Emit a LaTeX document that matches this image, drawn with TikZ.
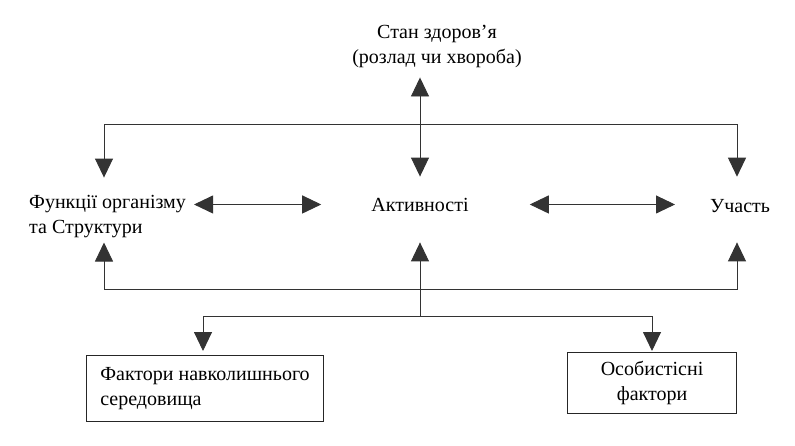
\documentclass[tikz,border=0pt]{standalone}
\usepackage{fontspec}
\setmainfont{Liberation Serif}
\usetikzlibrary{arrows.meta}
\begin{document}
\begin{tikzpicture}[x=1pt, y=-1pt,
        >={Triangle[length=19pt,width=18pt]},
        every node/.style={inner sep=0pt, font=\fontsize{20}{25}\selectfont},
        link/.style={draw=black!80, line width=0.9pt},
        factorbox/.style={draw=black!85, line width=1.1pt, anchor=north west}]
        \useasboundingbox (0,0) rectangle (795,445);

        \node[anchor=base, align=center] (health) at (437,63) {Стан здоров’я\\(розлад чи хвороба)};
        \node[anchor=base west, align=left] (func) at (29,233) {Функції організму\\та Структури};
        \node[anchor=base] (act) at (420,211) {Активності};
        \node[anchor=base west] (part) at (710,212) {Участь};
        \node[factorbox, minimum width=237pt, minimum height=66pt, align=left] (env) at (86,355) {Фактори навколишнього\\середовища};
        \node[factorbox, minimum width=169pt, minimum height=61pt, align=center] (pers) at (567,352) {Особистісні\\фактори};

        \coordinate (tl) at (104,124);
        \coordinate (tr) at (737,124);
        \coordinate (bl) at (104,289);
        \coordinate (br) at (737,289);
        \coordinate (bm) at (420,316);
        \coordinate (fl) at (203,316);
        \coordinate (fr) at (652,316);

        \draw[link, <->, shorten <=10pt, shorten >=21pt] (act |- health.south) -- (act.north);
        \draw[link, <->, shorten <=17pt, shorten >=22pt] (tl |- func.north) -- (tl) -- (tr) -- (tr |- part.north);
        \draw[link, <->, shorten <=5pt, shorten >=30pt] (bl |- func.south) -- (bl) -- (br) -- (br |- part.south);
        \draw[link, ->, shorten >=31pt] (bm) -- (bm |- act.south);
        \draw[link, <->, shorten <=4pt, shorten >=1pt] (fl |- env.north) -- (fl) -- (fr) -- (fr |- pers.north);

        \draw[link, <->, shorten <=8pt, shorten >=50pt] (func.east |- act.center) -- (act.west);
        \draw[link, <->, shorten <=61pt, shorten >=35pt] (act.east) -- (part.west |- act.center);
\end{tikzpicture}
\end{document}
